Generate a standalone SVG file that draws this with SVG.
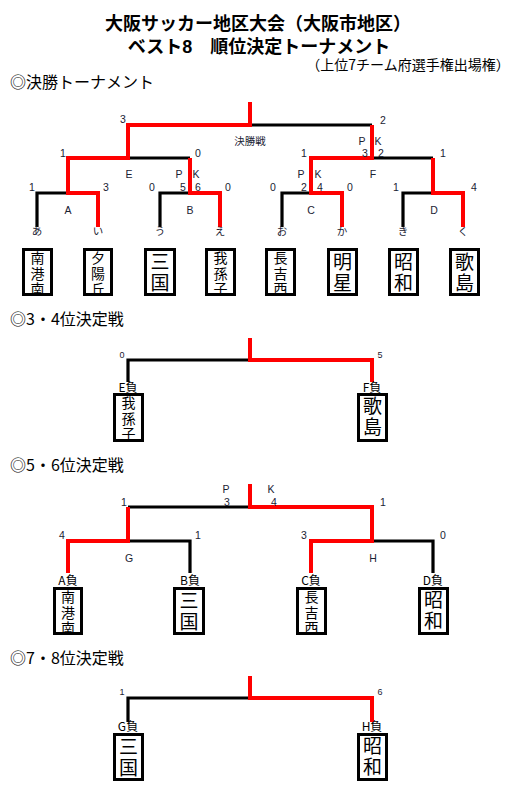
<svg xmlns="http://www.w3.org/2000/svg" width="522" height="791" viewBox="0 0 522 791">
<style>
text{font-family:"Noto Sans CJK JP","Liberation Sans",sans-serif;fill:#000}
.t1{font-family:"Liberation Sans","Noto Sans CJK JP",sans-serif;font-size:18px;font-weight:bold;text-anchor:middle}
.t3{font-size:14px;text-anchor:middle}
.h{font-size:16px}
.s{font-family:"Liberation Sans","Noto Sans CJK JP",sans-serif;font-size:10.5px;text-anchor:middle;fill:#1a2233}
.xs{font-family:"Liberation Sans","Noto Sans CJK JP",sans-serif;font-size:9px;text-anchor:middle;fill:#1a2233}
.l{font-size:12px;text-anchor:middle}
.n3{font-size:14px;writing-mode:vertical-rl;letter-spacing:1.5px}
.n2{font-size:19px;writing-mode:vertical-rl;letter-spacing:2px}
.bx{fill:#fff;stroke:#000;stroke-width:3}
.bk{fill:none;stroke:#000;stroke-width:3.2}
.rd{fill:none;stroke:#f00;stroke-width:4}
</style>
<rect width="522" height="791" fill="#fff"/>
<g id="titles">
<text class="t1" x="258" y="30">大阪サッカー地区大会（大阪市地区）</text>
<text class="t1" x="259" y="53">ベスト8　順位決定トーナメント</text>
<text class="t3" x="408" y="70">（上位7チーム府選手権出場権）</text>
<text class="h" x="10" y="88">◎決勝トーナメント</text>
<text class="h" x="10" y="325">◎3・4位決定戦</text>
<text class="h" x="10" y="471">◎5・6位決定戦</text>
<text class="h" x="10" y="664">◎7・8位決定戦</text>
</g>
<g id="connectors">
<path class="bk" d="M250 125H372M128 158H190M37 227V193H68M160 227V193H190M282 227V193H311M403 227V193H433M372 158H433"/>
<path class="rd" d="M250 102V125H128V158H68V193H98V227M190 158V193H220V227M372 125V158H311V193H342V227M433 158V193H463V227"/>
<path class="bk" d="M250 360H128V382"/>
<path class="rd" d="M250 338V360H372V382"/>
<path class="bk" d="M128 507H250M128 541H190V573M372 541H433V573"/>
<path class="rd" d="M250 484V507H372V541H311V573M128 507V541H68V573"/>
<path class="bk" d="M250 698H128V722"/>
<path class="rd" d="M250 676V698H372V722"/>
</g>
<g id="final-labels">
<text class="s" x="123" y="123">3</text>
<text class="s" x="383" y="124">2</text>
<text class="s" x="250" y="145">決勝戦</text>
<text class="s" x="63" y="157">1</text>
<text class="s" x="198" y="157">0</text>
<text class="s" x="129" y="178">E</text>
<text class="s" x="179" y="178">P</text>
<text class="s" x="196" y="178">K</text>
<text class="s" x="32" y="191">1</text>
<text class="s" x="106" y="191">3</text>
<text class="s" x="152" y="191">0</text>
<text class="s" x="183" y="191">5</text>
<text class="s" x="198" y="191">6</text>
<text class="s" x="228" y="191">0</text>
<text class="s" x="362" y="145">P</text>
<text class="s" x="378" y="145">K</text>
<text class="s" x="365" y="157">3</text>
<text class="s" x="381" y="157">2</text>
<text class="s" x="304" y="157">1</text>
<text class="s" x="443" y="157">1</text>
<text class="s" x="301" y="178">P</text>
<text class="s" x="318" y="178">K</text>
<text class="s" x="373" y="178">F</text>
<text class="s" x="273" y="191">0</text>
<text class="s" x="304" y="191">2</text>
<text class="s" x="320" y="191">4</text>
<text class="s" x="350" y="191">0</text>
<text class="s" x="396" y="191">1</text>
<text class="s" x="474" y="191">4</text>
<text class="s" x="68" y="214">A</text>
<text class="s" x="190" y="214">B</text>
<text class="s" x="311" y="214">C</text>
<text class="s" x="434" y="214">D</text>
<text class="s" x="37" y="235">あ</text>
<text class="s" x="98" y="235">い</text>
<text class="s" x="160" y="235">う</text>
<text class="s" x="220" y="235">え</text>
<text class="s" x="282" y="235">お</text>
<text class="s" x="342" y="235">か</text>
<text class="s" x="403" y="235">き</text>
<text class="s" x="463" y="235">く</text>
</g>
<g id="team-minami-konan"><rect class="bx" x="23.5" y="249.5" width="28" height="45"/><text class="n3" x="37.5" y="251">南港南</text></g>
<g id="team-yuhigaoka"><rect class="bx" x="84.5" y="249.5" width="27" height="45"/><text class="n3" x="98" y="251">夕陽丘</text></g>
<g id="team-mikuni"><rect class="bx" x="145.5" y="249.5" width="29" height="45"/><text class="n2" x="160" y="252">三国</text></g>
<g id="team-abiko"><rect class="bx" x="206.5" y="249.5" width="28" height="45"/><text class="n3" x="220.5" y="251">我孫子</text></g>
<g id="team-nagayoshinishi"><rect class="bx" x="266.5" y="249.5" width="28" height="45"/><text class="n3" x="280.5" y="251">長吉西</text></g>
<g id="team-meisei"><rect class="bx" x="328.5" y="249.5" width="28" height="45"/><text class="n2" x="342.5" y="252">明星</text></g>
<g id="team-showa"><rect class="bx" x="389.5" y="249.5" width="28" height="45"/><text class="n2" x="403.5" y="252">昭和</text></g>
<g id="team-utashima"><rect class="bx" x="450.5" y="249.5" width="28" height="45"/><text class="n2" x="464.5" y="252">歌島</text></g>
<g id="third-labels">
<text class="xs" x="122" y="358">0</text>
<text class="xs" x="380" y="358">5</text>
<text class="l" x="128" y="392">E負</text>
<text class="l" x="372" y="392">F負</text>
</g>
<g id="third-abiko"><rect class="bx" x="114.5" y="394.5" width="28" height="46"/><text class="n3" x="128.5" y="396">我孫子</text></g>
<g id="third-utashima"><rect class="bx" x="358.5" y="394.5" width="28" height="46"/><text class="n2" x="372.5" y="396">歌島</text></g>
<g id="fifth-labels">
<text class="s" x="226" y="493">P</text>
<text class="s" x="227" y="506">3</text>
<text class="s" x="271" y="493">K</text>
<text class="s" x="274" y="506">4</text>
<text class="s" x="124" y="506">1</text>
<text class="s" x="383" y="506">1</text>
<text class="s" x="62" y="539">4</text>
<text class="s" x="198" y="539">1</text>
<text class="s" x="304" y="539">3</text>
<text class="s" x="443" y="539">0</text>
<text class="s" x="129" y="562">G</text>
<text class="s" x="373" y="562">H</text>
<text class="l" x="68" y="585">A負</text>
<text class="l" x="190" y="585">B負</text>
<text class="l" x="311" y="585">C負</text>
<text class="l" x="433" y="585">D負</text>
</g>
<g id="fifth-minami-konan"><rect class="bx" x="54.5" y="588.5" width="27" height="45"/><text class="n3" x="68" y="590">南港南</text></g>
<g id="fifth-mikuni"><rect class="bx" x="174.5" y="588.5" width="29" height="45"/><text class="n2" x="189" y="591">三国</text></g>
<g id="fifth-nagayoshinishi"><rect class="bx" x="297.5" y="588.5" width="28" height="45"/><text class="n3" x="311.5" y="590">長吉西</text></g>
<g id="fifth-showa"><rect class="bx" x="419.5" y="588.5" width="28" height="45"/><text class="n2" x="433.5" y="590">昭和</text></g>
<g id="seventh-labels">
<text class="xs" x="122" y="695">1</text>
<text class="xs" x="380" y="695">6</text>
<text class="l" x="128" y="731">G負</text>
<text class="l" x="372" y="731">H負</text>
</g>
<g id="seventh-mikuni"><rect class="bx" x="114.5" y="734.5" width="28" height="45"/><text class="n2" x="128.5" y="737">三国</text></g>
<g id="seventh-showa"><rect class="bx" x="358.5" y="734.5" width="28" height="45"/><text class="n2" x="372.5" y="736">昭和</text></g>
</svg>
